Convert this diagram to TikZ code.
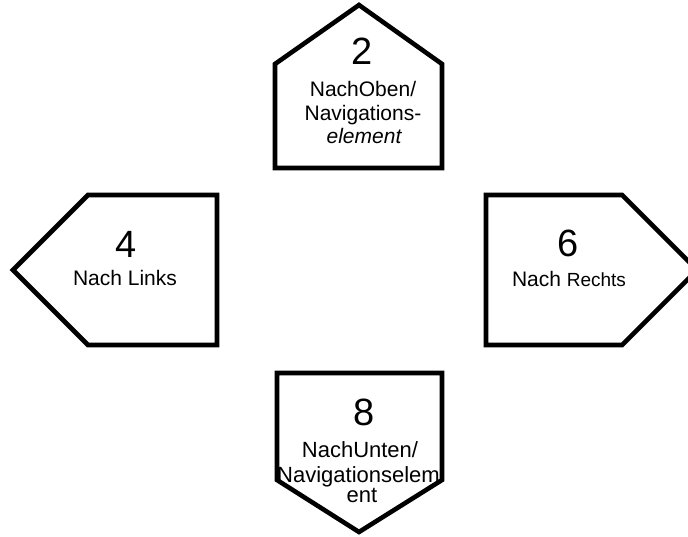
\documentclass[tikz,border=0pt]{standalone}
\usepackage{fontspec}
\setmainfont{Liberation Sans}
\begin{document}
\begin{tikzpicture}[x=1pt,y=-1pt,
  shapeline/.style={draw=black,line width=4.6pt,line join=miter,fill=white},
  numtxt/.style={anchor=base,inner sep=0pt,font=\fontsize{38}{40}\selectfont},
  labtxt/.style={anchor=base,inner sep=0pt,font=\fontsize{21}{23}\selectfont},
  labtxtb/.style={anchor=base,inner sep=0pt,font=\fontsize{22}{24}\selectfont}]
\useasboundingbox (0,0) rectangle (688,537);
% top (2)
\draw[shapeline] (275,168) -- (275,64) -- (359,5) -- (442,64) -- (442,168) -- cycle;
\node[numtxt] (n2) at (362,65) {2};
\node[labtxt] (t2a) at (363,97) {NachOben/};
\node[labtxt] (t2b) at (363,121) {Navigations-};
\node[labtxt] (t2c) at (364,144) {\itshape element};
% left (4)
\draw[shapeline] (217,195) -- (88,195) -- (13,270) -- (88,345) -- (217,345) -- cycle;
\node[numtxt] (n4) at (126,258) {4};
\node[labtxt] (t4) at (125,286) {Nach Links};
% right (6)
\draw[shapeline] (486,195) -- (622,195) -- (697,270) -- (622,345) -- (486,345) -- cycle;
\node[numtxt] (n6) at (568,257) {6};
\node[labtxt] (t6) at (569,287) {Nach {\fontsize{19}{21}\selectfont Rechts}};
% bottom (8)
\draw[shapeline] (277,373) -- (442,373) -- (442,480) -- (359,532) -- (277,480) -- cycle;
\node[numtxt] (n8) at (364,425) {8};
\node[labtxtb] (t8a) at (360,457) {NachUnten/};
\begin{scope}
\clip (270,460) rectangle (441,490);
\node[labtxtb,anchor=base west] (t8b) at (277,482) {Navigationselement};
\end{scope}
\node[labtxtb] (t8c) at (362,502) {ent};
\draw[line width=4.6pt] (442,373) -- (442,480);
\end{tikzpicture}
\end{document}
